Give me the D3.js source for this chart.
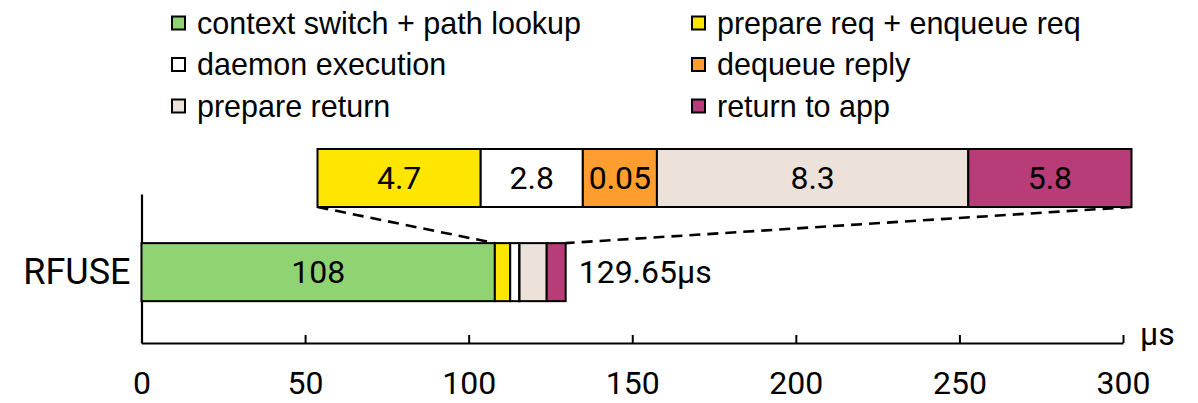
<!DOCTYPE html>
<html>
<head>
<meta charset="utf-8">
<script src="https://cdn.jsdelivr.net/npm/d3@7"></script>
<style>
  html, body { margin: 0; padding: 0; background: #fff; }
  svg { display: block; }
</style>
</head>
<body>
<svg id="chart" width="1198" height="403"></svg>
<script>
// ---- data ----
const categories = ["RFUSE"];
const seriesNames = [
  "context switch + path lookup",
  "prepare req + enqueue req",
  "daemon execution",
  "dequeue reply",
  "prepare return",
  "return to app"
];
const seriesColors = ["#90d373", "#ffe600", "#ffffff", "#ff9e2e", "#ece2d9", "#b83c78"];
const rfuseValues = [108, 4.7, 2.8, 0.05, 8.3, 5.8];
const xTicks = [0, 50, 100, 150, 200, 250, 300];
const unitLabel = "µs";

// ---- layout ----
const svg = d3.select("#chart");
const axisLeftX = 141.5, axisRightX = 1123;
const axisTopY = 194, axisBottomY = 343;
const mainFont = "Roboto, sans-serif";
const legendFont = "'Liberation Sans', Arial, sans-serif";

const x = d3.scaleLinear().domain([0, 300]).range([axisLeftX, axisRightX]);
const y = d3.scaleBand().domain(categories).range([axisTopY, axisBottomY])
  .paddingInner(0).paddingOuter(0.784).align(0.54);

// stacked data
const stacked = [];
let acc = 0;
rfuseValues.forEach((v, i) => { stacked.push({i, v, x0: acc, x1: acc + v}); acc += v; });
const total = acc;

// ---- legend ----
const legend = svg.append("g");
seriesNames.forEach((name, i) => {
  const col = i % 2, row = Math.floor(i / 2);
  const lx = col === 0 ? 172 : 692;
  const cy = 23 + row * 41.5;
  legend.append("rect")
    .attr("x", lx).attr("y", cy - 6.5).attr("width", 13).attr("height", 13)
    .attr("fill", seriesColors[i]).attr("stroke", "#000").attr("stroke-width", 2);
  legend.append("text")
    .attr("x", lx + 25).attr("y", cy).attr("dy", "0.36em")
    .attr("font-family", legendFont).attr("font-size", 30.5).attr("fill", "#000")
    .text(name);
});

// ---- x axis ----
const xAxis = d3.axisBottom(x).tickValues(xTicks).tickSizeInner(-8).tickSizeOuter(0).tickPadding(28);
const gx = svg.append("g").attr("transform", `translate(0,${axisBottomY})`).call(xAxis);
gx.select(".domain").attr("stroke-width", 2.2);
gx.selectAll(".tick line").attr("stroke-width", 2);
gx.selectAll(".tick text").attr("font-family", mainFont).attr("font-size", 32).attr("fill", "#000");
svg.append("text").attr("x", 1140).attr("y", 345)
  .attr("font-family", mainFont).attr("font-size", 32).attr("fill", "#000").text(unitLabel);

// ---- y axis ----
const yAxis = d3.axisLeft(y).tickSize(0).tickPadding(11);
const gy = svg.append("g").attr("transform", `translate(${axisLeftX},0)`).call(yAxis);
gy.select(".domain").attr("stroke-width", 2.2);
gy.selectAll(".tick text").attr("font-family", mainFont).attr("font-size", 36).attr("fill", "#000");

// ---- main bar ----
const cat = categories[0];
const barY = y(cat), barH = y.bandwidth();
const bars = svg.append("g");
bars.selectAll("rect").data(stacked).join("rect")
  .attr("x", d => x(d.x0)).attr("y", barY)
  .attr("width", d => x(d.x1) - x(d.x0)).attr("height", barH)
  .attr("fill", d => seriesColors[d.i]).attr("stroke", "#000").attr("stroke-width", 2);
bars.selectAll("text").data(stacked.filter(d => x(d.x1) - x(d.x0) > 40)).join("text")
  .attr("x", d => (x(d.x0) + x(d.x1)) / 2).attr("y", barY + barH / 2).attr("dy", "0.35em")
  .attr("text-anchor", "middle").attr("font-family", mainFont).attr("font-size", 32).attr("fill", "#000")
  .text(d => d.v);
svg.append("text").attr("x", x(total) + 13).attr("y", barY + barH / 2).attr("dy", "0.35em")
  .attr("font-family", mainFont).attr("font-size", 32).attr("fill", "#000")
  .text(`${d3.format(".2f")(total)}${unitLabel}`);

// ---- inset (magnified breakdown of the small segments) ----
const small = stacked.slice(1);
const insetLeft = 317.5, insetRight = 1131.5, insetTop = 149, insetBottom = 207;
const insetWeights = [163, 102, 74, 311, 163]; // visual widths, not proportional
const wSum = d3.sum(insetWeights);
const domainPts = [small[0].x0].concat(small.map(d => d.x1));
const rangePts = [insetLeft];
insetWeights.forEach((w, k) => rangePts.push(rangePts[k] + w / wSum * (insetRight - insetLeft)));
const xi = d3.scaleLinear().domain(domainPts).range(rangePts);

// connectors
const conn = svg.append("g").attr("stroke", "#000").attr("stroke-width", 2.6).attr("stroke-dasharray", "11,7");
conn.append("line").attr("x1", insetLeft).attr("y1", insetBottom).attr("x2", x(small[0].x0)).attr("y2", barY);
conn.append("line").attr("x1", insetRight).attr("y1", insetBottom).attr("x2", x(total)).attr("y2", barY);

const inset = svg.append("g");
inset.selectAll("rect").data(small).join("rect")
  .attr("x", d => xi(d.x0)).attr("y", insetTop)
  .attr("width", d => xi(d.x1) - xi(d.x0)).attr("height", insetBottom - insetTop)
  .attr("fill", d => seriesColors[d.i]).attr("stroke", "#000").attr("stroke-width", 2);
inset.selectAll("text").data(small).join("text")
  .attr("x", d => (xi(d.x0) + xi(d.x1)) / 2).attr("y", (insetTop + insetBottom) / 2).attr("dy", "0.35em")
  .attr("text-anchor", "middle").attr("font-family", mainFont).attr("font-size", 32).attr("fill", "#000")
  .text(d => d.v);
</script>
</body>
</html>
